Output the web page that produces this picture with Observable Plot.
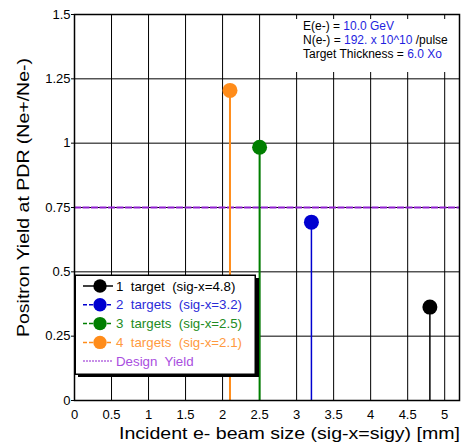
<!DOCTYPE html>
<html><head><meta charset="utf-8">
<script src="https://cdn.jsdelivr.net/npm/d3@7"></script>
<script src="https://cdn.jsdelivr.net/npm/@observablehq/plot@0.6"></script>
<style>
html,body{margin:0;padding:0;background:#fff;}
#wrap{position:relative;width:465px;height:444px;font-family:"Liberation Sans",Arial,sans-serif;overflow:hidden;}
#note{position:absolute;left:290px;top:19px;width:167px;height:53px;background:#fff;font-size:12px;line-height:14.2px;padding-left:13px;box-sizing:border-box;white-space:pre;color:#000;}
#legend{position:absolute;left:74px;top:274px;}
</style></head><body><div id="wrap"></div>
<script>
// ---- data ----
const sizes = [4.8, 3.2, 2.5, 2.1];
const yields = [0.363, 0.693, 0.984, 1.205];
const seriesNames = ["1  target  (sig-x=4.8)", "2  targets  (sig-x=3.2)", "3  targets  (sig-x=2.5)", "4  targets  (sig-x=2.1)"];
const seriesColors = ["#000000", "#0000d0", "#007f00", "#ff8c1a"];
const legendTextColors = ["#000000", "#2a2ad8", "#228b22", "#ff9a40"];
const seriesDash = [null, "4,2", "4,2", "4,2"];
const seriesWidth = [1.5, 1.5, 2, 2];
const designYield = [0.75];
const designLabel = "Design  Yield";
const designColor = "#9020d0";
const xTicks = [0, 0.5, 1, 1.5, 2, 2.5, 3, 3.5, 4, 4.5, 5];
const xTickLabels = ["0", "0.5", "1", "1.5", "2", "2.5", "3", "3.5", "4", "4.5", "5"];
const yTicks = [0, 0.25, 0.5, 0.75, 1, 1.25, 1.5];
const yTickLabels = ["0", "0.25", "0.5", "0.75", "1", "1.25", "1.5"];
const xLabel = "Incident e- beam size (sig-x=sigy) [mm]";
const yLabel = "Positron Yield at PDR (Ne+/Ne-)";
const noteBlue = "#1f1fe0";
const noteLines = [
  [["E(e-) = ", "#000"], ["10.0 GeV", noteBlue]],
  [["N(e-) = ", "#000"], ["192. x 10^10", noteBlue], [" /pulse", "#000"]],
  [["Target Thickness = ", "#000"], ["6.0 Xo", noteBlue]]
];

const points = sizes.map((x, i) => ({x, y: yields[i], name: seriesNames[i], color: seriesColors[i], w: seriesWidth[i]}));

const chart = Plot.plot({
  width: 465, height: 444,
  marginLeft: 74, marginRight: 6, marginTop: 14, marginBottom: 44,
  style: {fontFamily: '"Liberation Sans", Arial, sans-serif', fontSize: "13px", color: "#000", background: "#fff"},
  x: {domain: [0, 5.2]},
  y: {domain: [0, 1.5]},
  marks: [
    Plot.gridX(xTicks, {stroke: "#000", strokeOpacity: 1, strokeWidth: 1}),
    Plot.gridY(yTicks, {stroke: "#000", strokeOpacity: 1, strokeWidth: 1}),
    Plot.ruleY(designYield, {stroke: designColor, strokeWidth: 2, strokeDasharray: "7,1.5"}),
    Plot.ruleX(points, {x: "x", y1: 0, y2: "y", stroke: "color", strokeWidth: "w"}),
    Plot.dot(points, {x: "x", y: "y", r: 7.5, fill: "color", stroke: "none"}),
    Plot.frame({stroke: "#000", strokeWidth: 1.5}),
    Plot.axisX(xTicks, {anchor: "bottom", tickSize: 0, tickPadding: 9, tickFormat: (d, i) => xTickLabels[i], label: xLabel, labelArrow: "none"}),
    Plot.axisY(yTicks, {anchor: "left", tickSize: 3, tickPadding: 1, tickFormat: (d, i) => yTickLabels[i], label: yLabel, labelArrow: "none"})
  ]
});

const wrap = document.getElementById("wrap");
wrap.appendChild(chart);

// axis label styling (find by content)
const svg = d3.select(chart);
function restyle(label, tf, len) {
  svg.selectAll("text").filter(function () { return this.textContent === label; })
    .each(function () {
      const t = d3.select(this);
      t.attr("x", null).attr("y", null).attr("dy", null).attr("dx", null)
        .attr("transform", tf).attr("text-anchor", "start")
        .style("font-size", "16.5px").attr("textLength", len).attr("lengthAdjust", "spacingAndGlyphs");
      const p = this.parentNode;
      if (p && p.tagName === "g") p.removeAttribute("transform");
    });
}
restyle(xLabel, "translate(119,439)", 341);
restyle(yLabel, "translate(29,337) rotate(-90)", 279);

// annotation
const note = document.createElement("div");
note.id = "note";
noteLines.forEach(line => {
  const row = document.createElement("div");
  line.forEach(([t, c]) => { const s = document.createElement("span"); s.textContent = t; s.style.color = c; row.appendChild(s); });
  note.appendChild(row);
});
wrap.appendChild(note);

// legend
const lg = d3.select(wrap).append("svg").attr("id", "legend").attr("width", 190).attr("height", 106)
  .style("font-family", '"Liberation Sans", Arial, sans-serif').style("font-size", "13.3px");
lg.append("rect").attr("x", 4).attr("y", 4).attr("width", 181).attr("height", 99).attr("fill", "#000");
lg.append("rect").attr("x", 1.25).attr("y", 1.25).attr("width", 180).attr("height", 99).attr("fill", "#fff").attr("stroke", "#000").attr("stroke-width", 1.5);
const rowY = [12, 30.8, 49.6, 68.4, 87];
seriesNames.forEach((n, i) => {
  const g = lg.append("g").attr("transform", `translate(0,${rowY[i]})`);
  g.append("line").attr("x1", 9).attr("x2", 39).attr("stroke", seriesColors[i]).attr("stroke-width", 1.5).attr("stroke-dasharray", seriesDash[i]);
  g.append("circle").attr("cx", 26).attr("r", 6.7).attr("fill", seriesColors[i]);
  g.append("text").attr("x", 42).attr("dy", "0.35em").attr("xml:space", "preserve").style("white-space", "pre").attr("fill", legendTextColors[i]).text(n);
});
const dg = lg.append("g").attr("transform", `translate(0,${rowY[4]})`);
dg.append("line").attr("x1", 9).attr("x2", 39).attr("stroke", designColor).attr("stroke-width", 1).attr("stroke-dasharray", "2,1");
dg.append("text").attr("x", 42).attr("dy", "0.35em").attr("xml:space", "preserve").style("white-space", "pre").attr("fill", "#a94ee0").text(designLabel);
</script>
</body></html>
